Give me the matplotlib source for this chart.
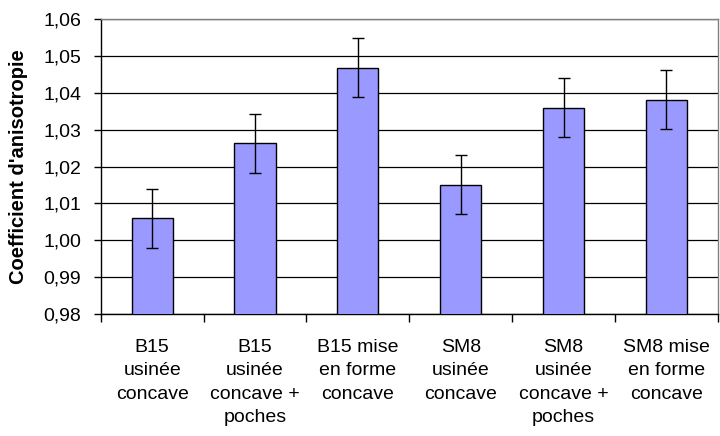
import matplotlib.pyplot as plt
import numpy as np

plt.rcParams['font.family'] = ['Liberation Sans', 'DejaVu Sans']

categories = [
    "B15\nusinée\nconcave",
    "B15\nusinée\nconcave +\npoches",
    "B15 mise\nen forme\nconcave",
    "SM8\nusinée\nconcave",
    "SM8\nusinée\nconcave +\npoches",
    "SM8 mise\nen forme\nconcave",
]
values = [1.006, 1.0263, 1.0468, 1.0150, 1.0359, 1.0381]
errors = [0.008, 0.008, 0.008, 0.008, 0.008, 0.008]
y_ticks = [0.98, 0.99, 1.00, 1.01, 1.02, 1.03, 1.04, 1.05, 1.06]

fig = plt.figure(figsize=(7.2, 4.36), dpi=100)
ax = fig.add_axes([0.140, 0.280, 0.857, 0.676])

x = np.arange(len(categories))
ax.bar(x, values, width=0.4, color="#9999FF", edgecolor="black", linewidth=1.0,
       bottom=0, zorder=3)
ax.errorbar(x, values, yerr=errors, fmt="none", ecolor="black", elinewidth=1.0,
            capsize=4.5, capthick=1.0, zorder=4)

ax.set_ylim(0.98, 1.06)
ax.set_xlim(-0.5, len(categories) - 0.5)
ax.set_yticks(y_ticks)
ax.set_yticklabels([f"{v:.2f}".replace(".", ",") for v in y_ticks], fontsize=14)
ax.yaxis.grid(True, color="black", linewidth=0.9, zorder=0)
ax.set_axisbelow(True)

ax.set_xticks(x)
ax.set_xticklabels(categories, fontsize=14, linespacing=1.5)
ax.tick_params(axis="x", length=0, pad=18)
ax.set_xticks(np.arange(-0.5, len(categories)), minor=True)
ax.tick_params(axis="x", which="minor", length=6, width=1, color="black")
ax.tick_params(axis="y", length=5, width=1, color="black", pad=9)

ax.set_ylabel("Coefficient d'anisotropie", fontsize=14.5, fontweight="bold")
ax.yaxis.set_label_coords(-0.118, 0.5)

for side in ["left", "bottom"]:
    ax.spines[side].set_color("black")
    ax.spines[side].set_linewidth(1.0)
for side in ["top", "right"]:
    ax.spines[side].set_color("#808080")
    ax.spines[side].set_linewidth(1.0)

fig.savefig("out.png", dpi=100)
